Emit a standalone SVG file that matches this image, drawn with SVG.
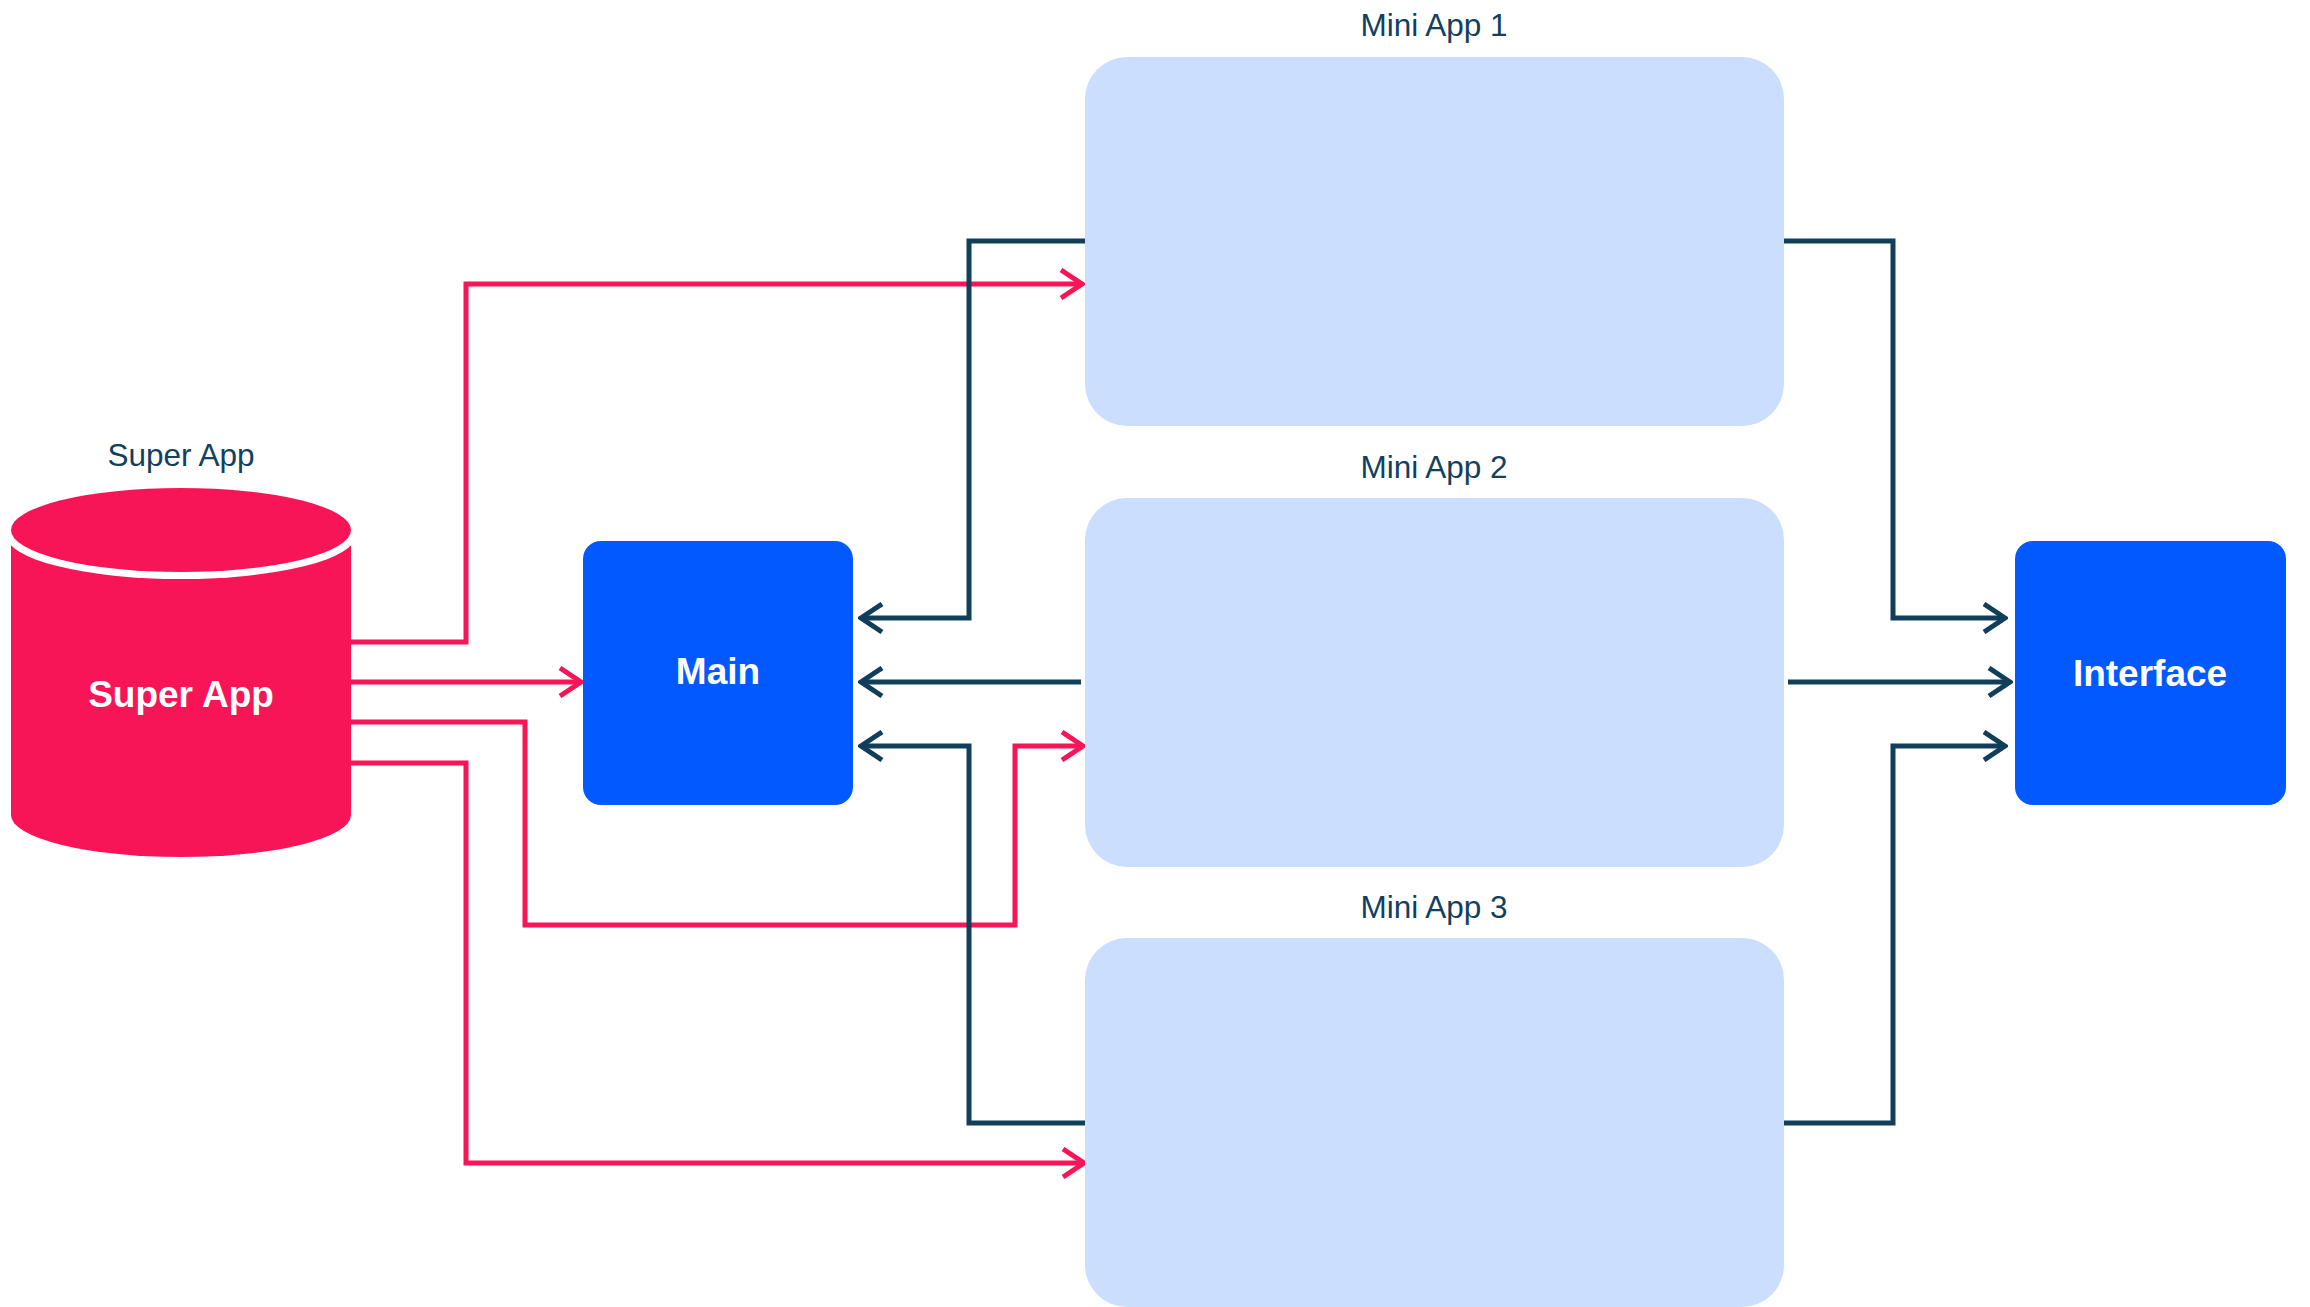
<svg xmlns="http://www.w3.org/2000/svg" width="2310" height="1307" viewBox="0 0 2310 1307">
<style>
.lbl{font-family:"Liberation Sans",Arial,sans-serif;font-size:31.5px;fill:#12405E;text-anchor:middle}
.in{font-family:"Liberation Sans",Arial,sans-serif;font-size:37px;font-weight:bold;fill:#FFFFFF;text-anchor:middle}
.mini{fill:#CCDEFD}
.blue{fill:#0259FF}
.red{fill:none;stroke:#F71558;stroke-width:5;marker-end:url(#ar)}
.dark{fill:none;stroke:#113F5A;stroke-width:5;marker-end:url(#ad)}
</style>
<defs>
<marker id="ar" viewBox="0 0 26 32" refX="23" refY="16" markerWidth="26" markerHeight="32" markerUnits="userSpaceOnUse" orient="auto">
<path d="M2,2 L23,16 L2,30" fill="none" stroke="#F71558" stroke-width="5"/>
</marker>
<marker id="ad" viewBox="0 0 26 32" refX="23" refY="16" markerWidth="26" markerHeight="32" markerUnits="userSpaceOnUse" orient="auto">
<path d="M2,2 L23,16 L2,30" fill="none" stroke="#113F5A" stroke-width="5"/>
</marker>
</defs>
<rect width="2310" height="1307" fill="#FFFFFF"/>
<g id="connectors">
<path class="red" d="M351,642 H466 V284 H1082"/>
<path class="red" d="M351,682 H581"/>
<path class="red" d="M351,722 H525 V925 H1015 V746 H1083"/>
<path class="red" d="M351,763 H466 V1163 H1084"/>
<path class="dark" d="M1085,241 H969 V618 H861"/>
<path class="dark" d="M1081,682 H861"/>
<path class="dark" d="M1085,1123 H969 V746 H861"/>
<path class="dark" d="M1784,241 H1893 V618 H2005"/>
<path class="dark" d="M1788,682 H2010"/>
<path class="dark" d="M1784,1123 H1893 V746 H2005"/>
</g>
<g id="superapp">
<text class="lbl" x="181" y="466">Super App</text>
<path d="M11,530 V815 A170,42 0 0 0 351,815 V530 Z" fill="#F71558"/>
<ellipse cx="181" cy="535" rx="175" ry="44" fill="#FFFFFF"/>
<ellipse cx="181" cy="530" rx="170" ry="42" fill="#F71558"/>
<text class="in" x="181" y="707">Super App</text>
</g>
<g id="main">
<rect class="blue" x="583" y="541" width="270" height="264" rx="18"/>
<text class="in" x="718" y="684">Main</text>
</g>
<g id="miniapp1">
<text class="lbl" x="1434" y="36">Mini App 1</text>
<rect class="mini" x="1085" y="57" width="699" height="369" rx="42"/>
</g>
<g id="miniapp2">
<text class="lbl" x="1434" y="478">Mini App 2</text>
<rect class="mini" x="1085" y="498" width="699" height="369" rx="42"/>
</g>
<g id="miniapp3">
<text class="lbl" x="1434" y="918">Mini App 3</text>
<rect class="mini" x="1085" y="938" width="699" height="369" rx="42"/>
</g>
<g id="interface">
<rect class="blue" x="2015" y="541" width="271" height="264" rx="18"/>
<text class="in" x="2150" y="686">Interface</text>
</g>
</svg>
